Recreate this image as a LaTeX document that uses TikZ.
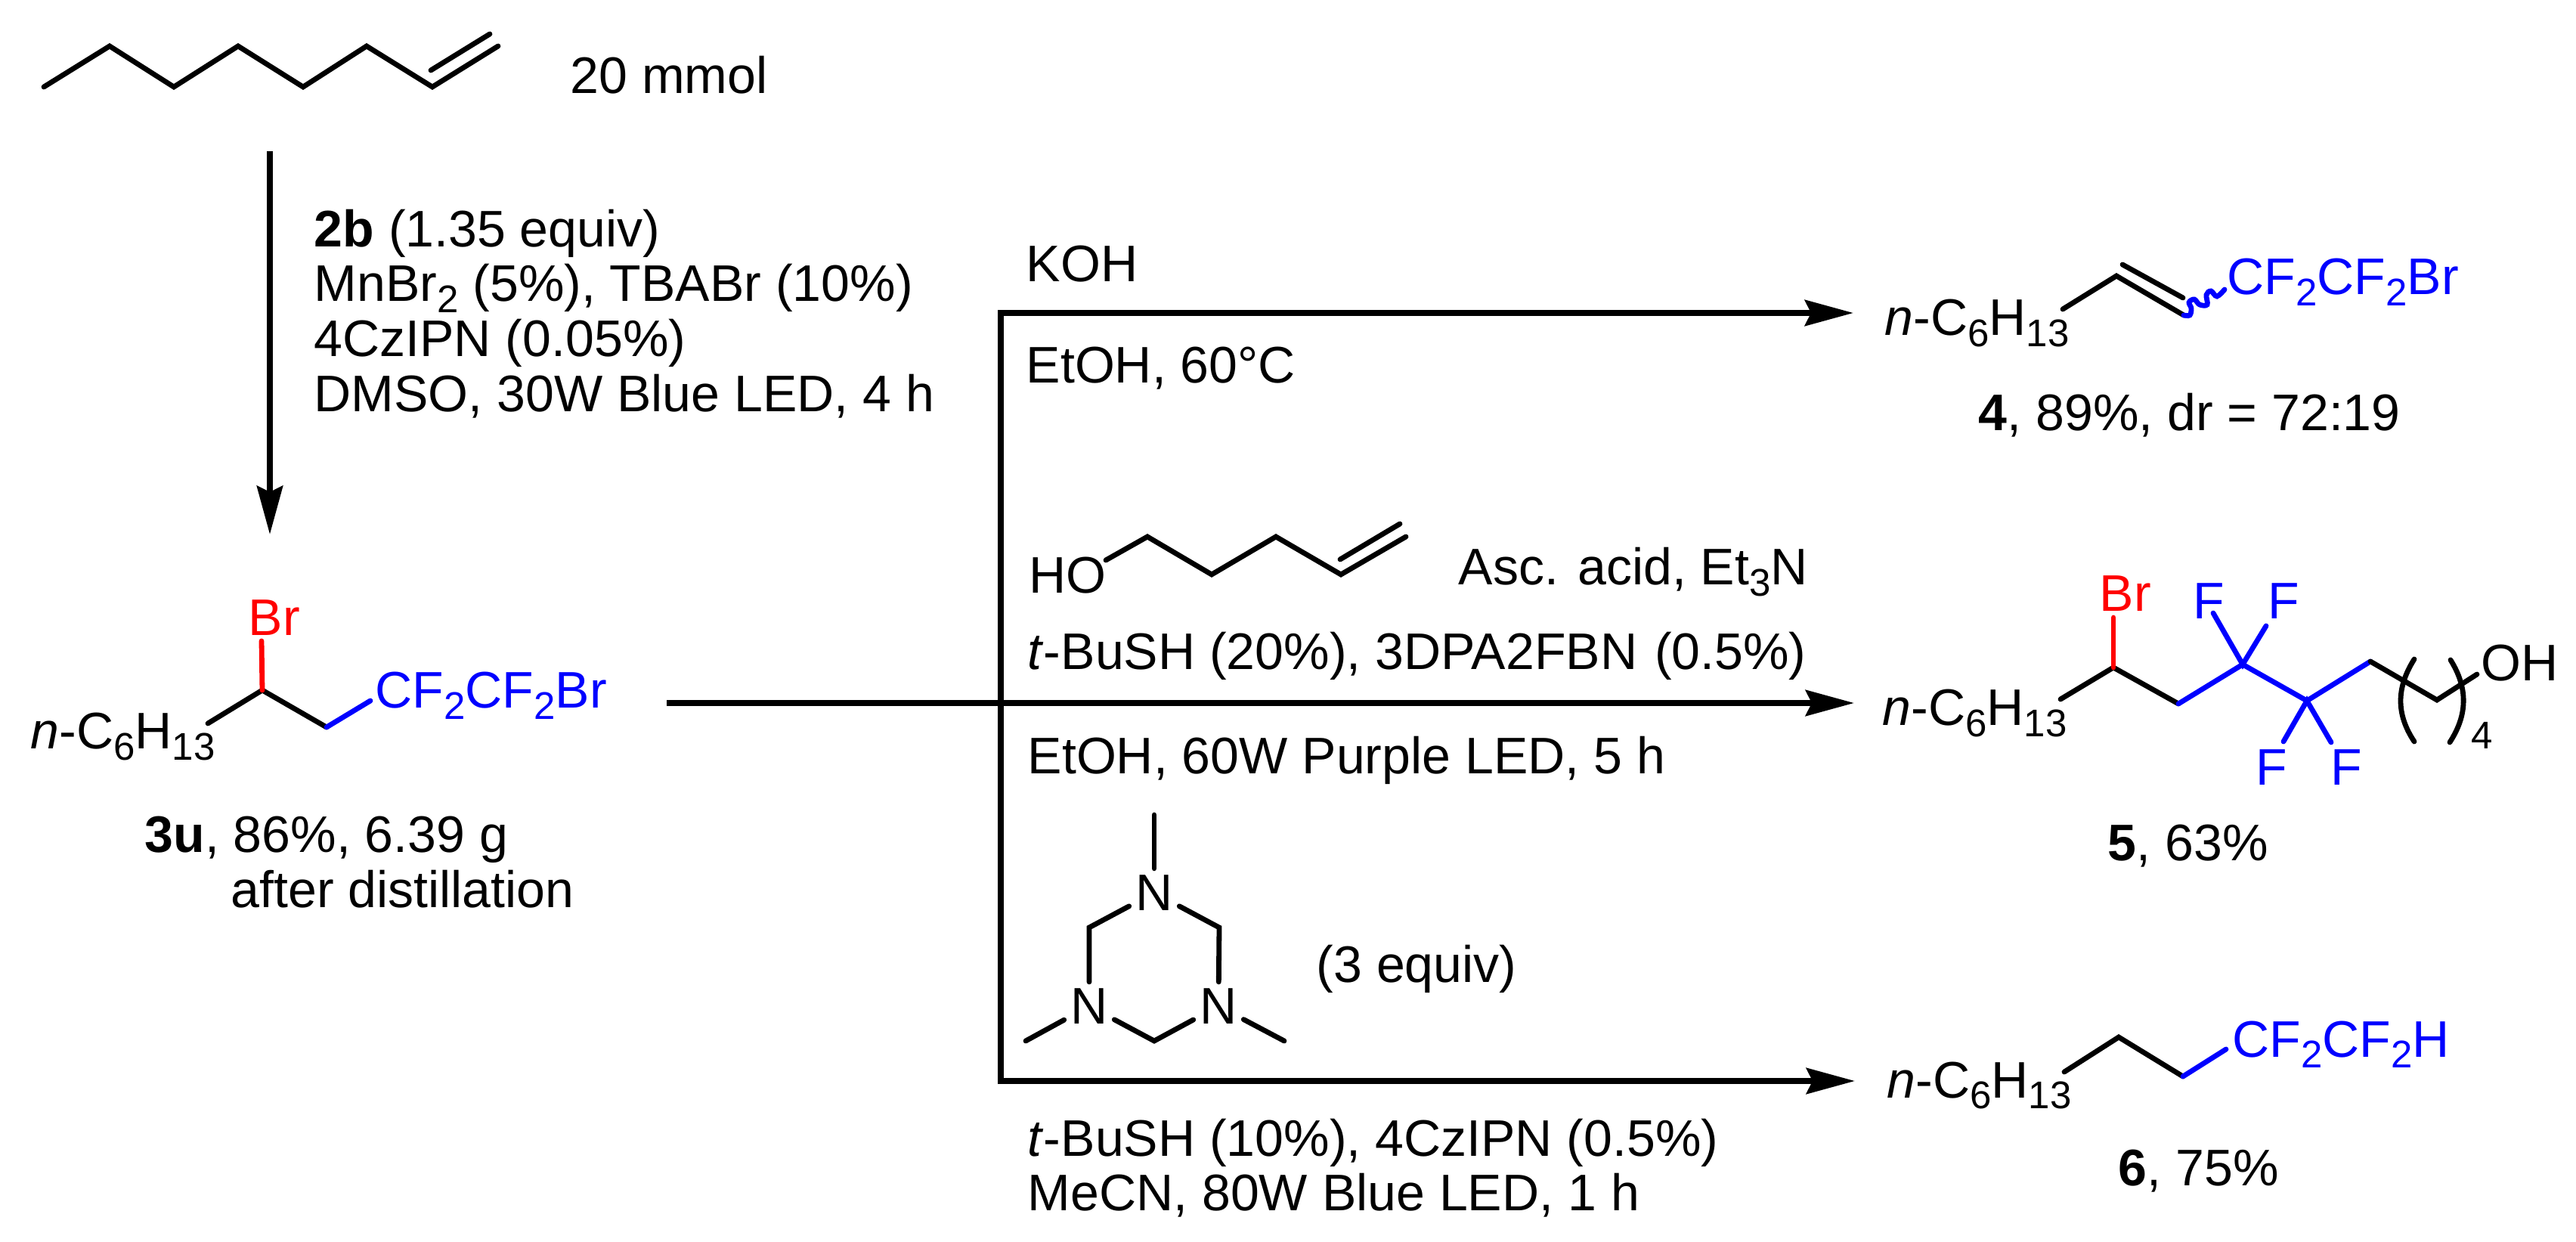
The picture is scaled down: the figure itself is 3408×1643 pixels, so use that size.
\documentclass[tikz,border=0pt]{standalone}
\usepackage{fontspec}
\setmainfont{Liberation Sans}
\usetikzlibrary{arrows.meta}
\newcommand{\sbs}[1]{\raisebox{-.22em}{\fontsize{14.5}{14.5}\selectfont #1}}
\newcommand{\hexyl}{\textit{n}-C\sbs{6}H\sbs{13}}
\tikzset{
  txt/.style={font=\fontsize{19.35}{23}\selectfont, anchor=base west, inner sep=0pt},
  atom/.style={font=\fontsize{19.35}{23}\selectfont, inner sep=0.08cm},
  bond/.style={line width=0.068cm, line cap=round},
  rxn/.style={line width=0.08cm},
  rxnarrow/.style={rxn, -{Stealth[length=0.64cm,width=0.34cm,inset=0.08cm]}}
}
\begin{document}
\begin{tikzpicture}[x=0.01cm,y=-0.01cm]
  \useasboundingbox (0,0) rectangle (3408,1643);

  % arrows
  \coordinate (a1) at (357,200);
  \coordinate (a2) at (357,707);
  \coordinate (main) at (882,930);
  \coordinate (fork) at (1324,930);
  \coordinate (up) at (1324,414);
  \coordinate (down) at (1324,1430);
  \coordinate (tip4) at (2452,414);
  \coordinate (tip5) at (2453,930);
  \coordinate (tip6) at (2454,1430);
  \draw[rxnarrow] (a1) -- (a2);
  \draw[rxnarrow] (main) -- (tip5);
  \draw[rxn,line cap=rect] (down) -- (up);
  \draw[rxnarrow] (up) -- (tip4);
  \draw[rxnarrow] (down) -- (tip6);

  % octene
  \coordinate (o1) at (58,115);
  \coordinate (o2) at (145,61);
  \coordinate (o3) at (230,115);
  \coordinate (o4) at (315,61);
  \coordinate (o5) at (401,115);
  \coordinate (o6) at (485,61);
  \coordinate (o7) at (572,115);
  \coordinate (o8) at (659,61);
  \coordinate (o9) at (570,93);
  \coordinate (o10) at (648,45);
  \draw[bond] (o1) -- (o2) -- (o3) -- (o4) -- (o5) -- (o6) -- (o7) -- (o8);
  \draw[bond] (o9) -- (o10);

  % 3u
  \coordinate (b1) at (275,957);
  \coordinate (b2) at (347,913);
  \coordinate (b3) at (432,962);
  \coordinate (b4) at (490,927);
  \coordinate (b5) at (346,848);
  \draw[bond] (b1) -- (b2) -- (b3);
  \draw[bond,blue] (b3) -- (b4);
  \draw[bond,red] (b2) -- (b5);

  % pentenol
  \coordinate (h1) at (1463,741);
  \coordinate (h2) at (1518,710);
  \coordinate (h3) at (1603,760);
  \coordinate (h4) at (1688,710);
  \coordinate (h5) at (1774,760);
  \coordinate (h6) at (1860,710);
  \coordinate (h7) at (1773,740);
  \coordinate (h8) at (1852,693);
  \draw[bond] (h1) -- (h2) -- (h3) -- (h4) -- (h5) -- (h6);
  \draw[bond] (h7) -- (h8);

  % triazinane
  \begin{scope}[every node/.style={atom}]
    \node (n1) at (1527,1181) {N};
    \node (n2) at (1441,1331) {N};
    \node (n3) at (1612,1331) {N};
  \end{scope}
  \coordinate (t1) at (1527,1078);
  \coordinate (t2) at (1441,1227);
  \coordinate (t4) at (1613,1227);
  \coordinate (t5) at (1527,1377);
  \coordinate (t6) at (1357,1377);
  \coordinate (t7) at (1699,1377);
  \draw[bond] (t1) -- (n1);
  \draw[bond] (n1) -- (t2) -- (n2);
  \draw[bond] (n1) -- (t4) -- (n3);
  \draw[bond] (n2) -- (t5) -- (n3);
  \draw[bond] (n2) -- (t6);
  \draw[bond] (n3) -- (t7);

  % 4
  \coordinate (c1) at (2729,409);
  \coordinate (c2) at (2800,365);
  \coordinate (c3) at (2889,417);
  \coordinate (c4) at (2808,350);
  \coordinate (c5) at (2888,394);
  \coordinate (c6) at (2943,383);
  \draw[bond] (c1) -- (c2) -- (c3);
  \draw[bond] (c4) -- (c5);
  \draw[bond,blue] plot[smooth,tension=0.6] coordinates {(c3) (2897,417) (2899,408) (2896,400) (2903,396) (2910,403) (2920,403) (2919,390) (2925,385) (2933,392) (c6)};

  % 5
  \coordinate (d1) at (2726,925);
  \coordinate (d2) at (2796,883);
  \coordinate (d3) at (2882,931);
  \coordinate (d4) at (2967,879);
  \coordinate (d5) at (3052,927);
  \coordinate (d6) at (3136,875);
  \coordinate (d7) at (3224,926);
  \coordinate (d8) at (3277,892);
  \coordinate (d9) at (2796,817);
  \coordinate (f1) at (2928,811);
  \coordinate (f2) at (2998,828);
  \coordinate (f3) at (3021,981);
  \coordinate (f4) at (3084,982);
  \coordinate (p1) at (3194,872);
  \coordinate (p2) at (3194,981);
  \coordinate (p3) at (3242,873);
  \coordinate (p4) at (3241,982);
  \draw[bond] (d1) -- (d2) -- (d3);
  \draw[bond,blue] (d3) -- (d4) -- (d5) -- (d6);
  \draw[bond] (d6) -- (d7) -- (d8);
  \draw[bond,red] (d2) -- (d9);
  \draw[bond,blue] (f1) -- (d4) -- (f2);
  \draw[bond,blue] (f3) -- (d5) -- (f4);
  \draw[bond] (p1) .. controls (3170,910) and (3170,945) .. (p2);
  \draw[bond] (p3) .. controls (3265,910) and (3265,945) .. (p4);

  % 6
  \coordinate (e1) at (2731,1418);
  \coordinate (e2) at (2803,1372);
  \coordinate (e3) at (2888,1424);
  \coordinate (e4) at (2945,1388);
  \draw[bond] (e1) -- (e2) -- (e3);
  \draw[bond,blue] (e3) -- (e4);

  % texts
  \begin{scope}[every node/.style={txt}]
    \node (amount) at (754,124) {20 mmol};
    \node (r1) at (415,327) {\textbf{2b} (1.35 equiv)};
    \node (r2) at (415,399) {MnBr\sbs{2} (5\%), TBABr (10\%)};
    \node (r3) at (415,472) {4CzIPN (0.05\%)};
    \node (r4) at (415,545) {DMSO, 30W Blue LED, 4 h};

    \node (hex3) at (40,991) {\hexyl};
    \node[text=red] (br3) at (328,841) {Br};
    \node[text=blue] (cf3) at (496,937) {CF\sbs{2}CF\sbs{2}Br};
    \node (cap3) at (191,1127) {\textbf{3u}, 86\%, 6.39 g};
    \node (cap3b) at (305,1200) {after distillation};

    \node (koh) at (1357,373) {KOH};
    \node (etoh) at (1357,507) {EtOH, 60°C};

    \node (ho) at (1361,785) {HO};
    \node (asc) at (1929,774) {Asc. acid, Et\sbs{3}N};
    \node (s1) at (1359,886) {\textit{t}-BuSH (20\%), 3DPA2FBN\hspace{0.04cm} (0.5\%)};
    \node (s2) at (1359,1024) {EtOH, 60W Purple LED, 5 h};
    \node (equiv) at (1741,1299) {(3 equiv)};
    \node (s3) at (1359,1529) {\textit{t}-BuSH (10\%), 4CzIPN (0.5\%)};
    \node (s4) at (1359,1601) {MeCN, 80W Blue LED, 1 h};

    \node (hex4) at (2493,444) {\hexyl};
    \node[text=blue] (cf4) at (2946,390) {CF\sbs{2}CF\sbs{2}Br};
    \node (cap4) at (2617,570) {\textbf{4}, 89\%, dr = 72:19};

    \node (hex5) at (2490,960) {\hexyl};
    \node[text=red] (br5) at (2777,809) {Br};
    \node[text=blue] (fa) at (2901,819) {F};
    \node[text=blue] (fb) at (3000,819) {F};
    \node[text=blue] (fc) at (2984,1038) {F};
    \node[text=blue] (fd) at (3083,1038) {F};
    \node (oh) at (3282,900) {OH};
    \node (four) at (3269,991) {\fontsize{14.5}{14.5}\selectfont 4};
    \node (cap5) at (2788,1138) {\textbf{5}, 63\%};

    \node (hex6) at (2496,1452) {\hexyl};
    \node[text=blue] (cf6) at (2953,1398) {CF\sbs{2}CF\sbs{2}H};
    \node (cap6) at (2802,1568) {\textbf{6}, 75\%};
  \end{scope}

\end{tikzpicture}
\end{document}
